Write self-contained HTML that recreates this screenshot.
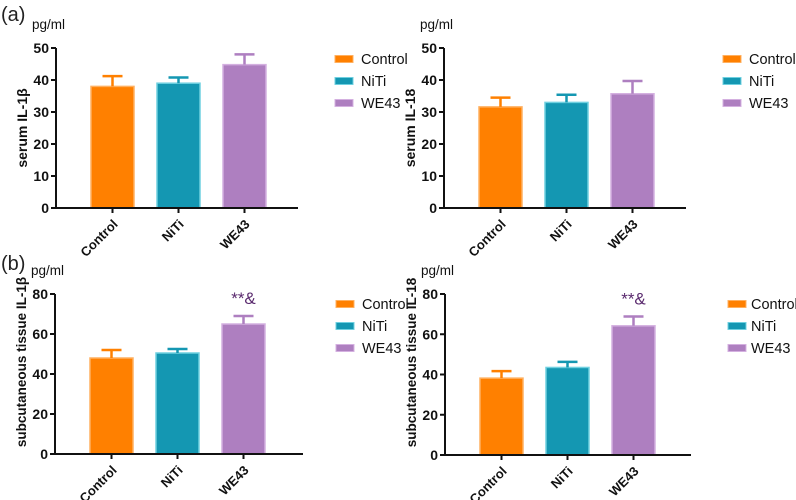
<!DOCTYPE html>
<html><head><meta charset="utf-8"><style>
body{margin:0;background:#fff;}
svg{display:block;font-family:"Liberation Sans",Arial,sans-serif;}
</style></head><body>
<svg id="c" width="796" height="500" viewBox="0 0 796 500" xmlns="http://www.w3.org/2000/svg">
<text x="1" y="21" font-size="20" fill="#222">(a)</text>
<text x="1" y="270" font-size="20" fill="#222">(b)</text>
</svg>
<script>
const categories = ["Control","NiTi","WE43"];
const seriesColors = ["#FF8000","#1497B2","#AE7FC0"];
const p1Values = [38, 39, 44.8];
const p1ErrTop = [41.2, 40.8, 48];
const p2Values = [31.6, 33, 35.7];
const p2ErrTop = [34.5, 35.4, 39.7];
const p3Values = [48, 50.5, 65];
const p3ErrTop = [52, 52.5, 69];
const p4Values = [38.2, 43.5, 64.2];
const p4ErrTop = [41.7, 46.3, 68.8];
const ticks50 = [0,10,20,30,40,50];
const ticks80 = [0,20,40,60,80];
const sigLabels = ["","","**&"];

const NS="http://www.w3.org/2000/svg";
const svg=document.getElementById('c');
function mk(tag,attrs,parent){const e=document.createElementNS(NS,tag);for(const k in attrs)e.setAttribute(k,attrs[k]);(parent||svg).appendChild(e);return e;}
const borders=["#FFB060","#6FD0E0","#D4B0E0"];

function panel(p){
  const g=mk('g',{});
  
  
  const yS=v=>p.y0-(v/p.max)*(p.y0-p.yTop);
  const barW=43, gap=66, first=p.ax+35;
  const xC=i=>first+barW/2+i*gap;
  p.vals.forEach((v,i)=>{
    const r=mk('rect',{x:xC(i)-barW/2,y:yS(v),width:barW,height:p.y0-yS(v),fill:seriesColors[i],stroke:borders[i],'stroke-width':1.5},g);
    
    
    const e=mk('path',{d:`M${xC(i)},${yS(v)}V${yS(p.err[i])}M${xC(i)-10},${yS(p.err[i])}H${xC(i)+10}`,stroke:seriesColors[i],'stroke-width':2.5,fill:'none'},g);
    
    
    if(p.sig && sigLabels[i]){
      const s=mk('text',{x:xC(i),y:yS(p.err[i])-12,'text-anchor':'middle','font-size':17,fill:'#5a2a6e'},g);
      s.textContent=sigLabels[i];
      
      
    }
    const t=mk('line',{x1:xC(i),x2:xC(i),y1:p.y0,y2:p.y0+5,stroke:'#111','stroke-width':2},g);
    
    
    const l=mk('text',{x:0,y:0,'text-anchor':'end','font-size':13,'font-weight':'bold',fill:'#111',transform:`translate(${xC(i)+6},${p.y0+17}) rotate(-45)`},g);
    l.textContent=categories[i];
    
    
  });
  const ax=mk('path',{d:`M${p.ax},${p.yTop}V${p.y0}H${p.axEnd}`,stroke:'#111','stroke-width':2,fill:'none'},g);
  
  
  p.ticks.forEach(t=>{
    const tl=mk('line',{x1:p.ax-5,x2:p.ax,y1:yS(t),y2:yS(t),stroke:'#111','stroke-width':2},g);
    
    
    const tt=mk('text',{x:p.ax-7,y:yS(t)+5,'text-anchor':'end','font-size':14,'font-weight':'bold',fill:'#111'},g);
    tt.textContent=t;
    
    
  });
  const u=mk('text',{x:p.ax-24,y:p.yTop-19,'font-size':13.5,fill:'#111'},g);
  u.textContent='pg/ml';
  
  
  const yt=mk('text',{x:0,y:0,'text-anchor':'middle','font-size':p.tfs,'font-weight':'bold',fill:'#111',transform:`translate(${p.ax-29},${(p.y0+p.yTop)/2+p.tdy}) rotate(-90)`},g);
  yt.textContent=p.title;
  
  
  categories.forEach((c,i)=>{
    const sw=mk('rect',{x:p.lx,y:p.ly+i*22-3.5,width:18,height:7,fill:seriesColors[i],stroke:borders[i]},g);
    
    
    const lt=mk('text',{x:p.lx+p.tdx,y:p.ly+i*22+5,'font-size':14.5,fill:'#111'},g);
    lt.textContent=c;
    
    
  });
}
panel({name:'chart-serum-il1b',ax:56,axEnd:298,y0:208,yTop:48,max:50,ticks:ticks50,vals:p1Values,err:p1ErrTop,title:'serum IL-1β',lx:335,ly:59,tdx:26,tdy:0,tfs:14,sig:false});
panel({name:'chart-serum-il18',ax:444,axEnd:686,y0:208,yTop:48,max:50,ticks:ticks50,vals:p2Values,err:p2ErrTop,title:'serum IL-18',lx:723,ly:59,tdx:26,tdy:0,tfs:14,sig:false});
panel({name:'chart-tissue-il1b',ax:55,axEnd:303,y0:454,yTop:294,max:80,ticks:ticks80,vals:p3Values,err:p3ErrTop,title:'subcutaneous tissue IL-1β',lx:336,ly:304,tdx:26,tdy:-12,tfs:13.5,sig:true});
panel({name:'chart-tissue-il18',ax:445,axEnd:691,y0:455,yTop:294,max:80,ticks:ticks80,vals:p4Values,err:p4ErrTop,title:'subcutaneous tissue IL-18',lx:728,ly:304,tdx:23,tdy:-12,tfs:13.5,sig:true});
</script>
</body></html>
